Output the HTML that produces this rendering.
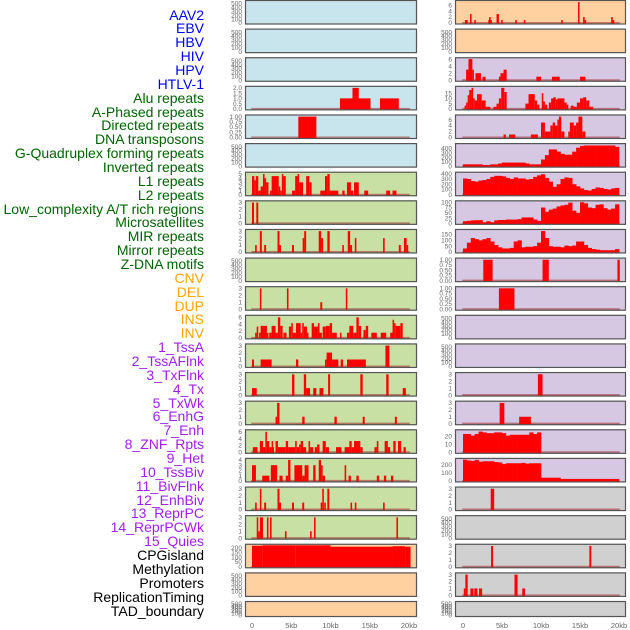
<!DOCTYPE html>
<html><head><meta charset="utf-8"><style>
html,body{margin:0;padding:0;background:#fff;width:630px;height:630px;overflow:hidden}
#labels{position:absolute;left:0;top:0;width:204px;height:630px}
.lab{position:absolute;right:0;font:14px "Liberation Sans",sans-serif;white-space:nowrap;line-height:14px}
svg{position:absolute;left:0;top:0}
</style></head><body>
<div id="labels"></div>
<svg id="chart" width="630" height="630"></svg>
<script>
const trackNames = ["AAV2","EBV","HBV","HIV","HPV","HTLV-1","Alu repeats","A-Phased repeats","Directed repeats","DNA transposons","G-Quadruplex forming repeats","Inverted repeats","L1 repeats","L2 repeats","Low_complexity A/T rich regions","Microsatellites","MIR repeats","Mirror repeats","Z-DNA motifs","CNV","DEL","DUP","INS","INV","1_TssA","2_TssAFlnk","3_TxFlnk","4_Tx","5_TxWk","6_EnhG","7_Enh","8_ZNF_Rpts","9_Het","10_TssBiv","11_BivFlnk","12_EnhBiv","13_ReprPC","14_ReprPCWk","15_Quies","CPGisland","Methylation","Promoters","ReplicationTiming","TAD_boundary"];
const trackColors = ["#0000ee",6,"#006400",13,"#ffa500",5,"#a020f0",15,"#000000",5];
const xTickValues = [0,5,10,15,20];
const xTickLabels = ["0","5kb","10kb","15kb","20kb"];

// segment data: [startKb, endKb, value]
const L3 = [[11.2,15.1,1],[12.8,13.6,2],[16.3,18.7,1]];
const L4 = [[5.9,8.2,1]];
const L6 = [[0,0.3,4.5],[0.3,0.5,3.5],[0.5,0.8,4.5],[0.8,1.1,1],[1.1,1.4,2],[1.4,1.6,5],[1.6,1.8,4],[1.8,2.1,3],[2.3,2.5,1],[2.5,3.4,4.5],[3.4,3.6,2],[3.6,3.8,1],[3.8,4.0,5],[4.0,4.3,4.5],[5.1,5.5,1],[5.5,5.8,4.5],[5.8,6.0,5],[6.0,6.5,3],[6.9,7.3,4.5],[7.3,7.6,3],[8.7,9.3,1],[9.3,9.6,4.5],[9.6,9.9,5],[9.9,11.0,1],[11.5,11.8,1],[12.1,12.6,3],[12.6,12.9,1],[13.0,13.6,3],[14.3,14.8,1],[17.1,17.6,1],[17.9,18.4,1]];
const L7 = [[0,0.25,3],[0.55,0.8,3]];
const L8 = [[0.4,0.6,1],[1.0,1.25,3],[1.55,1.8,1],[3.25,3.5,3],[3.5,3.65,1],[5.1,5.35,1],[6.45,6.65,2],[6.65,6.9,3],[8.5,8.8,3],[8.8,9.05,2],[9.6,9.9,3],[11.5,11.7,1],[12.2,12.5,3],[12.5,12.75,1],[13.1,13.3,2],[16.7,16.9,2],[18.7,18.95,1],[19.35,19.7,2],[19.7,19.9,1]];
const L10 = [[1.0,1.2,3],[4.45,4.65,3],[8.7,8.95,1],[11.95,12.15,3]];
const L11 = [[0.4,0.6,1.5],[0.6,0.8,3.3],[0.9,1.1,1.5],[1.1,1.9,3.5],[1.9,2.1,1.5],[2.2,2.5,1.5],[2.5,3.0,3.5],[3.0,3.3,1.5],[3.3,3.6,6],[3.6,3.9,3.5],[4.0,4.4,1.5],[4.7,5.0,3.3],[5.0,5.2,4.3],[5.2,5.6,1.5],[5.6,6.2,4.3],[6.2,6.4,1.5],[6.4,6.6,4.3],[6.6,7.0,3.3],[7.0,7.2,1.5],[7.6,7.9,4.3],[7.9,8.4,3.3],[8.4,8.6,4.3],[8.6,8.9,1.5],[9.0,9.4,3.3],[9.4,9.9,3.5],[9.9,10.2,4.3],[10.2,10.8,1.5],[11.2,11.4,1.5],[12.1,12.4,1.5],[12.4,12.9,3.5],[12.9,13.3,1.5],[13.3,13.6,6],[13.6,13.9,3.5],[14.2,14.5,2.3],[14.5,14.8,3.5],[15.2,15.9,1.5],[16.4,17.1,1.5],[17.6,17.9,1.5],[17.9,18.1,5.3],[18.1,18.3,4.3],[18.3,18.9,3.5],[18.9,19.2,4.3]];
const L12 = [[0,0.25,1],[1.1,2.5,1],[5.6,5.9,1],[9.3,9.5,1],[9.5,10.2,2],[10.2,11.0,1],[11.3,11.6,1],[12.1,14.5,1],[17.0,17.5,3]];
const L13 = [[0,0.6,1],[5.1,5.4,3],[6.6,6.9,3],[6.9,7.4,1],[7.8,8.2,1],[8.6,9.1,1],[9.7,9.95,3],[13.8,14.1,3],[17.1,17.4,3],[19.2,19.6,1]];
const L14 = [[3.0,3.2,1],[3.2,3.5,3],[6.4,6.7,1],[10.5,10.8,1],[14.1,14.35,1],[18.2,18.45,1]];
const L15 = [[0.1,0.7,1.5],[1.0,1.4,3.3],[1.4,1.7,1.5],[1.7,1.9,6],[1.9,2.2,3.3],[2.2,2.5,1.5],[2.5,2.6,3.3],[2.6,2.8,1.5],[3.0,3.3,3.3],[3.3,4.3,1.5],[4.3,4.6,3.3],[4.6,5.5,1.5],[5.5,5.7,3.3],[5.7,6.0,1.5],[6.0,6.2,2.3],[6.2,6.5,3.3],[6.5,6.9,1.5],[7.2,7.4,3.3],[7.4,7.8,1.5],[8.0,8.3,1.5],[8.3,8.6,2.3],[9.0,9.4,3.3],[9.4,9.8,1.5],[10.7,11.4,1.5],[11.8,12.4,1.5],[12.4,12.7,3.3],[12.7,13.0,1.5],[13.0,13.8,3.3],[13.8,14.1,1.5],[15.6,15.9,1.5],[15.9,16.1,3.3],[16.9,17.3,3.3],[17.3,17.6,1.5],[18.0,18.3,3.3],[18.6,19.0,3.3],[19.3,19.6,1.5]];
const L16 = [[0,0.5,3],[1.3,2.2,1],[2.4,3.2,3],[3.5,3.9,1],[4.3,4.6,1],[4.6,4.9,4],[5.4,6.4,3],[6.4,6.7,1],[6.7,7.2,3],[7.8,8.1,3],[8.5,8.8,4],[8.8,9.0,3],[9.0,9.3,1],[11.8,12.0,3],[12.3,12.6,1],[13.3,13.6,1],[15.9,16.2,1],[16.8,17.1,1],[17.7,18.0,1]];
const L17 = [[0.4,0.6,1],[1.0,1.2,3],[1.55,1.8,1],[3.25,3.5,3],[3.5,3.65,1],[5.1,5.35,1],[6.4,6.65,1],[8.75,8.95,1],[8.95,9.15,3],[9.2,9.4,1],[9.6,9.85,3],[12.55,12.75,1],[13.1,13.3,1],[16.7,16.9,1]];
const L18 = [[0.6,0.8,3],[0.8,1.0,1],[1.0,1.4,3],[1.9,2.1,3],[2.3,2.5,3],[4.2,4.4,1],[7.4,7.6,1],[7.9,8.1,3],[18.4,18.6,3]];
const L19 = [[0,1.3,220],[1.3,5.5,225],[5.5,10.0,225],[10.0,17.9,210],[17.9,19.5,215],[19.5,20.2,210]];
const R0 = [[0.25,0.6,1],[0.9,1.1,3],[1.45,1.6,1],[3.25,3.7,1],[3.35,3.5,2],[4.3,4.6,3],[4.9,5.05,1],[6.7,6.9,1],[7.8,7.95,1],[12.6,12.75,1],[14.75,14.9,7],[15.4,15.6,2],[15.6,15.8,1],[19.0,19.15,2],[19.15,19.4,1]];
const R2 = [[0.4,0.7,3],[0.7,1.2,6],[1.2,1.4,3],[1.6,2.3,2],[2.5,2.9,1],[4.6,4.8,1],[4.8,5.2,2],[5.2,5.6,3],[9.4,10.0,1],[11.4,12.0,1],[12.0,12.4,1],[15.0,15.7,1]];
const R3 = [[0.2,0.4,3],[0.4,0.6,6],[0.6,0.8,13],[0.8,1.1,18],[1.1,1.3,20],[1.3,1.5,10],[1.5,1.8,8],[1.8,2.4,14],[2.4,2.9,8],[2.9,3.5,2],[3.9,4.3,2],[4.3,4.6,5],[4.6,4.9,10],[4.9,5.3,20],[5.3,5.6,16],[8.0,8.4,5],[8.4,9.2,14],[9.2,9.5,8],[9.5,9.8,4],[10.1,10.2,15],[10.2,10.5,7],[10.5,10.8,4],[11.0,11.3,6],[11.3,11.6,10],[11.6,11.9,11],[11.9,12.1,9],[12.1,13.0,10],[13.0,13.3,6],[13.3,13.5,4],[13.8,14.2,3],[14.2,14.6,2],[14.6,15.0,6],[15.0,15.4,10],[15.4,15.8,11],[15.8,16.2,8],[16.2,16.7,2]];
const R4 = [[5.2,5.5,1],[5.9,6.7,1],[8.7,9.6,1],[10.0,10.5,5],[10.5,11.2,2],[11.2,11.5,4],[11.5,11.8,5],[11.8,12.1,4],[12.1,12.3,6],[12.3,12.6,7],[12.6,13.0,2],[13.5,13.7,2],[13.7,14.2,5],[14.2,14.5,4],[14.5,14.8,5],[14.8,15.3,7],[15.3,15.7,2]];
const R9 = [[2.6,3.8,1],[10.2,11.0,1],[19.8,20.1,1]];
const R10 = [[4.6,6.6,1]];
const R13 = [[9.6,10.2,3]];
const R14 = [[4.7,5.3,3],[7.2,8.7,1]];
const R17 = [[3.55,4.0,3]];
const R19 = [[3.6,3.85,3],[16.2,16.45,3]];
const R20 = [[0.1,0.3,1],[0.3,0.6,3],[0.95,1.35,1],[1.45,1.85,1],[2.05,2.45,1],[6.6,7.0,3],[7.6,7.95,1]];
// area data: values per 0.5kb bin from 0 to 20kb
const R5 = [40,40,40,40,40,25,25,40,40,60,80,80,80,80,80,80,60,40,40,40,150,250,380,380,330,280,260,260,330,420,460,470,470,470,470,470,470,470,470,440];
const R6 = [310,300,260,250,270,280,300,340,360,360,350,320,300,330,310,310,290,300,340,370,390,320,250,150,200,300,330,320,200,160,120,90,80,110,140,130,110,100,120,130];
const R7 = [10,12,14,15,15,5,10,5,14,16,16,18,18,18,20,28,28,28,18,12,75,55,65,70,80,85,88,98,60,50,100,95,75,72,88,90,72,65,70,90];
const R8 = [30,80,120,110,100,110,120,90,60,40,30,30,35,90,100,40,45,45,50,80,180,120,50,45,45,40,55,50,55,90,90,60,35,25,20,15,15,15,15,25];
const R15 = [23,23,21,23,26,25,24,24,25,25,24,21,22,22,22,22,22,25,23,25,0,0,0,0,0,0,0,0,0,0,0,0,0,0,0,0,0,0,0,0];
const R16 = [265,255,250,262,240,245,245,245,235,230,210,220,220,220,220,225,215,220,220,220,40,40,40,40,40,25,25,25,25,25,25,25,25,25,25,25,25,25,25,25];

const emptyTicks = [0,100,200,300,400,500];
const ticks3 = [0,1,2,3], ticks6 = [0,2,4,6], ticksFrac = [0,0.25,0.5,0.75,1];
const leftCfg = [
 [null,550,emptyTicks],[null,550,emptyTicks],[null,550,emptyTicks],
 [L3,2.05,[0,0.5,1,1.5,2],1],[L4,1.03,ticksFrac,2],[null,550,emptyTicks],
 [L6,5.2,[0,1,2,3,4,5]],[L7,3.1,ticks3],[L8,3.1,ticks3],[null,550,emptyTicks],
 [L10,3.1,ticks3],[L11,6.3,ticks6],[L12,3.1,ticks3],[L13,3.1,ticks3],[L14,3.1,ticks3],
 [L15,6.3,ticks6],[L16,4.1,[0,1,2,3,4]],[L17,3.1,ticks3],[L18,3.1,ticks3],
 [L19,225,[0,50,100,150,200]],[null,550,emptyTicks],[null,550,emptyTicks]];
const rightCfg = [
 [R0,7.2,ticks6],[null,550,emptyTicks],[R2,6.1,ticks6],[R3,20.5,[0,5,10,15]],[R4,7.2,ticks6],
 [R5,490,[0,100,200,300,400]],[R6,410,[0,100,200,300,400]],[R7,102,[0,25,50,75,100]],[R8,185,[0,50,100,150]],
 [R9,1.03,ticksFrac,2],[R10,1.03,ticksFrac,2],[null,550,emptyTicks],[null,550,emptyTicks],
 [R13,3.1,ticks3],[R14,3.1,ticks3],[R15,27,[0,10,20]],[R16,268,[0,100,200]],
 [R17,3.1,ticks3],[null,550,emptyTicks],[R19,3.1,ticks3],[R20,3.1,ticks3],[null,550,emptyTicks]];
const leftBg = ["#c8e4ec",6,"#c8e0a4",13,"#ffd0a0",3];
const rightBg = ["#ffd0a0",2,"#d6c7e3",15,"#d0d0d0",5];

// labels
const labDiv = document.getElementById('labels');
let colorList = [];
for (let i=0;i<trackColors.length;i+=2) for (let k=0;k<trackColors[i+1];k++) colorList.push(trackColors[i]);
trackNames.forEach((n,i)=>{
  const d = document.createElement('div');
  
  
  d.className='lab'; d.textContent=n; d.style.color=colorList[i];
  d.style.top=(15 + i*(596/43) - 7.5)+'px';
  labDiv.appendChild(d);
});

const svg = document.getElementById('chart');
const NS='http://www.w3.org/2000/svg';
function mk(tag, attrs, parent){const e=document.createElementNS(NS,tag);for(const k in attrs)e.setAttribute(k,attrs[k]);(parent||svg).appendChild(e);return e;}
function expand(spec){let out=[];for(let i=0;i<spec.length;i+=2)for(let k=0;k<spec[i+1];k++)out.push(spec[i]);return out;}

function drawColumn(cfg, bg, px0, px1, x0, xs, side){
  const bgs = expand(bg);
  cfg.forEach((c,i)=>{
    const top = i*28.62, h = (i===21)?16:24.5;
    const g = mk('g',{});
    
    
    mk('rect',{x:px0,y:top,width:px1-px0,height:h,fill:bgs[i]},g);
    const [data,ymax,ticks,dec] = c;
    const yOf = v => top + h - 1.5 - Math.min(v,ymax)/ymax*(h-3);
    const xOf = kb => x0 + kb*xs;
    ticks.forEach(t=>{
      const tx = mk('text',{x:px0-3,y:yOf(t)+2.2,'text-anchor':'end','font-size':'6.5','fill':'#666','font-family':'Liberation Sans, sans-serif'},g);
      
      
      tx.textContent = dec ? t.toFixed(dec) : (ymax<2.5 && ymax>1.5 ? t.toFixed(1) : String(t));
    });
    if (data){
      const base = mk('line',{x1:xOf(-0.1),x2:xOf(20.1),y1:yOf(0),y2:yOf(0),stroke:'rgba(160,40,40,0.55)','stroke-width':2},g);
      
      
      if (typeof data[0]==='number'){
        data.forEach((v,k)=>{
          if (v<=0) return;
          const r = mk('rect',{x:xOf(k*0.5),y:yOf(v),width:0.5*xs+0.3,height:yOf(0)-yOf(v)+1,fill:'#ff0000'},g);
          
          
        });
      } else {
        data.forEach(s=>{
          const r = mk('rect',{x:xOf(s[0]),y:yOf(s[2]),width:Math.max(1.5,(s[1]-s[0])*xs),height:yOf(0)-yOf(s[2])+1,fill:'#ff0000'},g);
          
          
        });
      }
    }
    mk('rect',{x:px0+0.5,y:top+0.5,width:px1-px0-1,height:h-1,fill:'none',stroke:'#555','stroke-width':1.2},g);
  });
  xTickValues.forEach((v,k)=>{
    const t = mk('text',{x:x0+v*xs,y:628,'text-anchor':'middle','font-size':'7.5','fill':'#666','font-family':'Liberation Sans, sans-serif'});
    
    
    t.textContent = xTickLabels[k];
  });
}
drawColumn(leftCfg, leftBg, 245, 417, 252, 7.85, 'left');
drawColumn(rightCfg, rightBg, 455, 626, 463, 7.8, 'right');
</script>
</body></html>
